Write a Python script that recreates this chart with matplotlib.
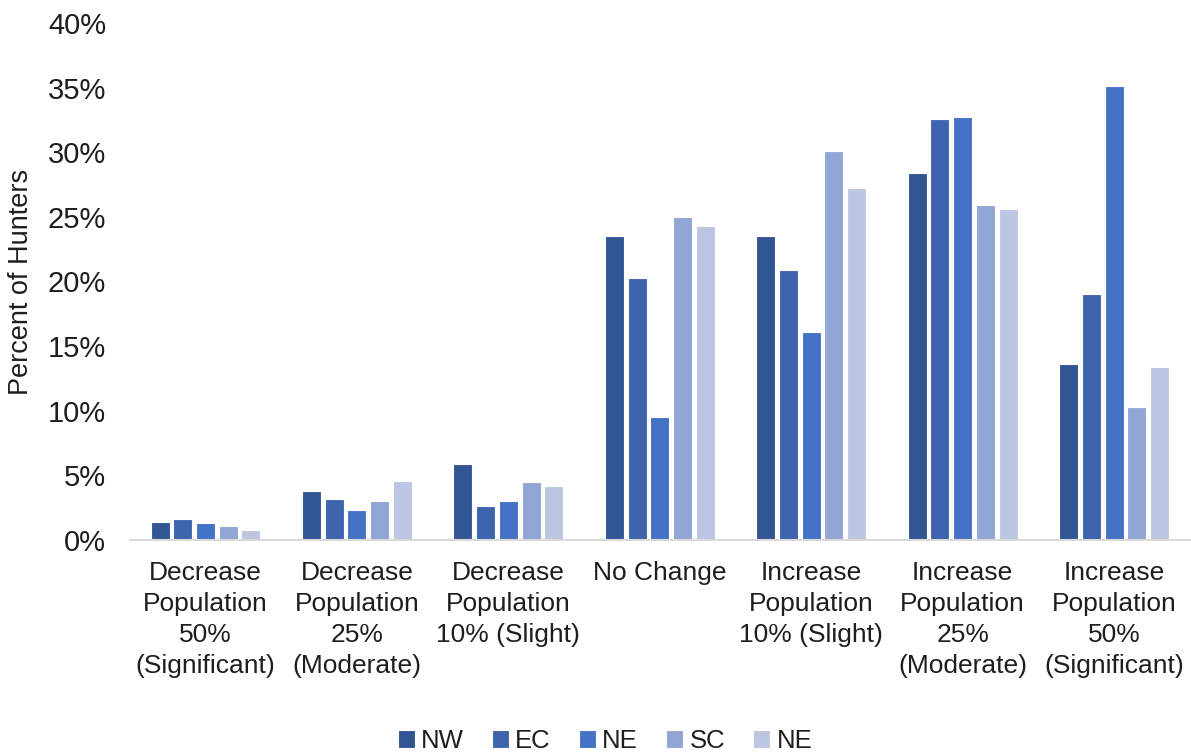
import matplotlib
matplotlib.use("Agg")
import matplotlib.pyplot as plt
import numpy as np

categories = [
    "Decrease\nPopulation\n50%\n(Significant)",
    "Decrease\nPopulation\n25%\n(Moderate)",
    "Decrease\nPopulation\n10% (Slight)",
    "No Change",
    "Increase\nPopulation\n10% (Slight)",
    "Increase\nPopulation\n25%\n(Moderate)",
    "Increase\nPopulation\n50%\n(Significant)",
]
series_names = ["NW", "EC", "NE", "SC", "NE"]
nw = [1.4, 3.8, 5.9, 23.5, 23.5, 28.4, 13.6]
ec = [1.6, 3.2, 2.6, 20.3, 20.9, 32.6, 19.0]
ne = [1.3, 2.3, 3.0, 9.5, 16.1, 32.7, 35.1]
sc = [1.1, 3.0, 4.5, 25.0, 30.1, 25.9, 10.3]
ne2 = [0.8, 4.6, 4.2, 24.3, 27.2, 25.6, 13.4]
series = [nw, ec, ne, sc, ne2]
colors = ["#325694", "#3D64AC", "#4473C5", "#92A6D5", "#BCC6E3"]

plt.rcParams["font.family"] = ["Liberation Sans", "DejaVu Sans"]
text_color = "#1E1E1E"

fig = plt.figure(figsize=(11.91, 7.56), dpi=100)
ax = fig.add_axes([0.109, 0.2857, 0.89, 0.684])

x = np.arange(len(categories))
slot = 0.15
width = 0.125
for i, (vals, c, name) in enumerate(zip(series, colors, series_names)):
    ax.bar(x + (i - 2) * slot, vals, width=width, color=c, label=name,
           edgecolor="white", linewidth=0.8)

ax.set_xlim(-0.5, len(categories) - 0.5)
ax.set_ylim(0, 40)
ax.set_yticks(np.arange(0, 41, 5))
ax.set_yticklabels([f"{v}%" for v in range(0, 41, 5)], fontsize=21)
ax.set_xticks(x)
ax.set_xticklabels(categories, fontsize=19, va="top", linespacing=1.37)
ax.tick_params(axis="both", length=0, colors=text_color)
ax.tick_params(axis="x", pad=15)
ax.tick_params(axis="y", pad=17)
for s in ["top", "right", "left"]:
    ax.spines[s].set_visible(False)
ax.spines["bottom"].set_color("#D9D9D9")
ax.spines["bottom"].set_linewidth(1.5)

ax.set_ylabel("Percent of Hunters", fontsize=19.5, color=text_color)
ax.yaxis.set_label_coords(-0.09, 0.5)

fig.legend(*ax.get_legend_handles_labels(), loc="center",
           bbox_to_anchor=(605 / 1191, 1 - 741 / 756), ncol=5,
           frameon=False, fontsize=18.5, handlelength=0.65, handleheight=0.65,
           handletextpad=0.25, columnspacing=1.1, labelcolor=text_color)

fig.savefig("out.png", dpi=100)
